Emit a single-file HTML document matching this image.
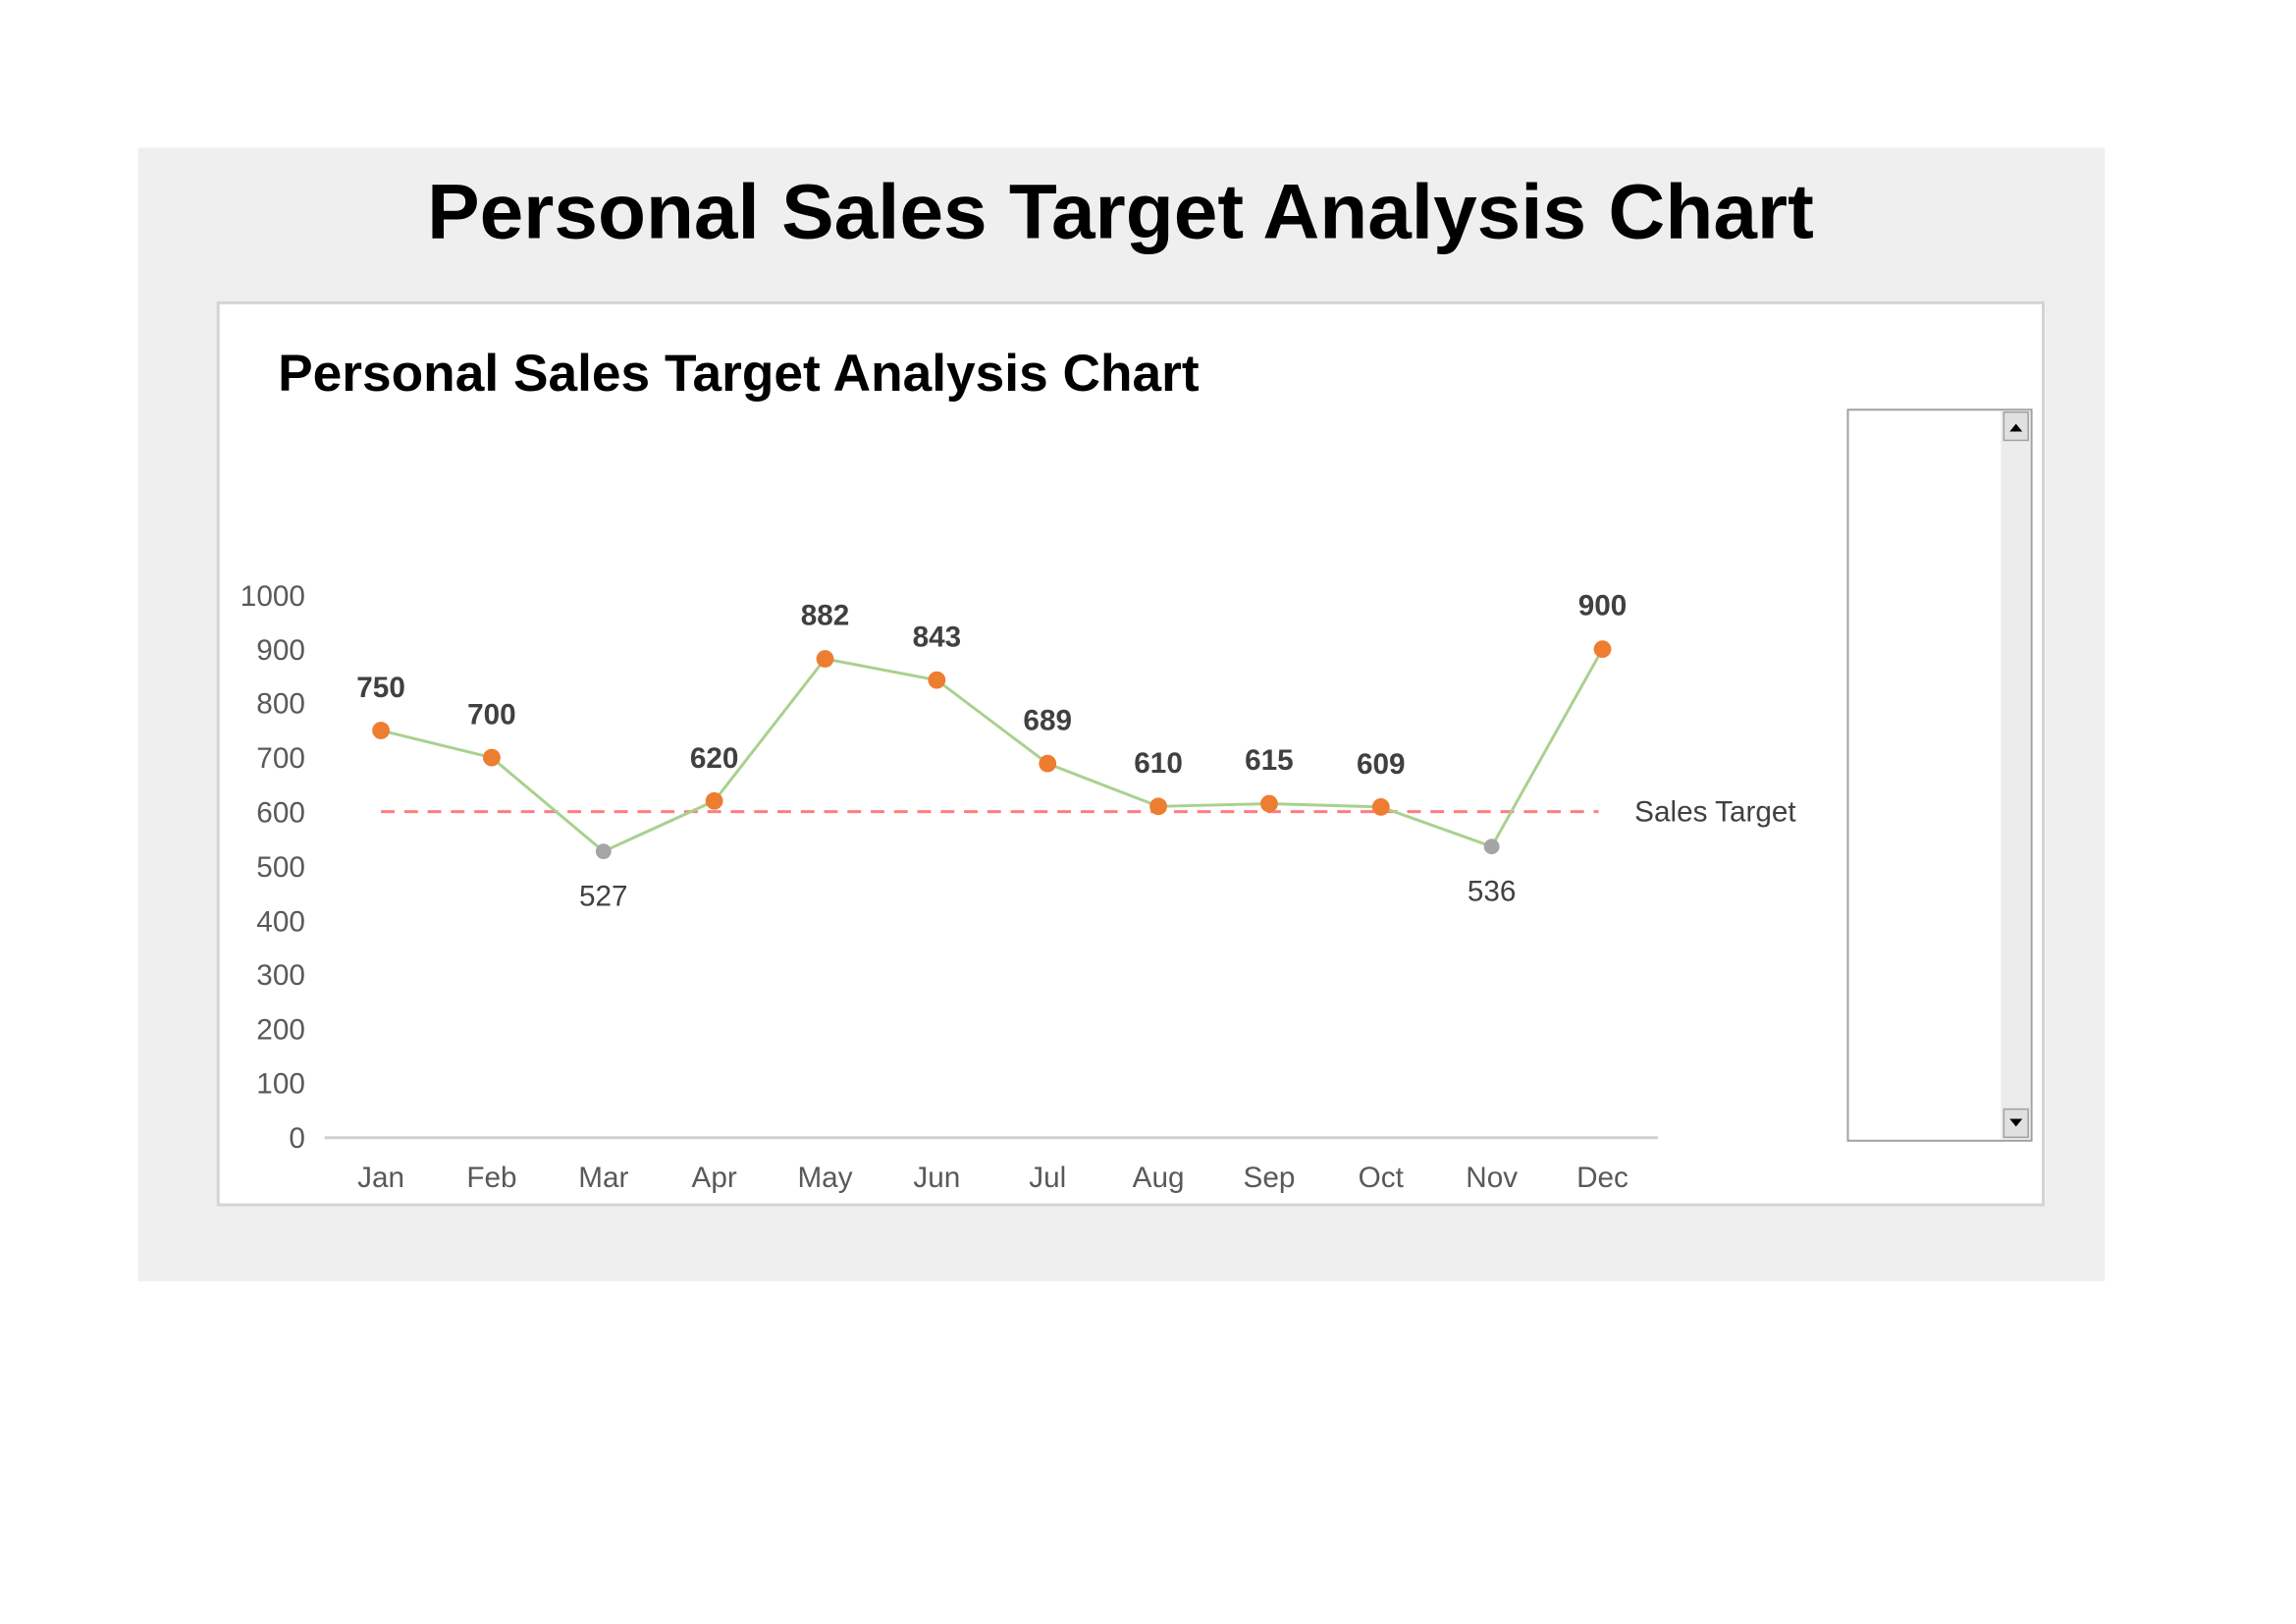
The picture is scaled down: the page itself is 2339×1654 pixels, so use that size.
<!DOCTYPE html>
<html><head><meta charset="utf-8"><style>
html,body{margin:0;padding:0;background:#fff;}
svg{display:block;}
text{font-family:"Liberation Sans",Arial,sans-serif;}
</style></head><body>
<svg width="2339" height="1654" viewBox="0 0 2339 1654" xmlns="http://www.w3.org/2000/svg">
<rect x="0" y="0" width="2339" height="1654" fill="#fff"/>
<g transform="scale(0.99)">
<rect x="142" y="152" width="2024" height="1166" fill="#efefef"/>
<text x="1153" y="245" text-anchor="middle" font-size="80" font-weight="bold" fill="#000" textLength="1427" lengthAdjust="spacingAndGlyphs">Personal Sales Target Analysis Chart</text>
<rect x="224.5" y="311.5" width="1878" height="928" fill="#fff" stroke="#d4d4d4" stroke-width="3"/>
<text x="286" y="402" font-size="53" font-weight="bold" fill="#000" textLength="948" lengthAdjust="spacingAndGlyphs">Personal Sales Target Analysis Chart</text>
<g font-size="30" fill="#595959" text-anchor="end">
<text x="314" y="623">1000</text><text x="314" y="679">900</text><text x="314" y="734">800</text>
<text x="314" y="790">700</text><text x="314" y="846">600</text><text x="314" y="902">500</text>
<text x="314" y="958">400</text><text x="314" y="1013">300</text><text x="314" y="1069">200</text>
<text x="314" y="1125">100</text><text x="314" y="1181">0</text>
</g>
<line x1="334" y1="1170.5" x2="1706" y2="1170.5" stroke="#d0d0d0" stroke-width="3"/>
<g font-size="30" fill="#595959" text-anchor="middle">
<text x="392" y="1221">Jan</text><text x="506" y="1221">Feb</text><text x="621" y="1221">Mar</text>
<text x="735" y="1221">Apr</text><text x="849" y="1221">May</text><text x="964" y="1221">Jun</text>
<text x="1078" y="1221">Jul</text><text x="1192" y="1221">Aug</text><text x="1306" y="1221">Sep</text>
<text x="1421" y="1221">Oct</text><text x="1535" y="1221">Nov</text><text x="1649" y="1221">Dec</text>
</g>
<line x1="392" y1="835" x2="1645" y2="835" stroke="#ff7c80" stroke-width="3" stroke-dasharray="14,10"/>
<text x="1682" y="845" font-size="30" fill="#404040">Sales Target</text>
<polyline fill="none" stroke="#a9d18e" stroke-width="3" points="392,751.5 506,779.4 621,875.9 735,824.0 849,677.8 964,699.6 1078,785.5 1192,829.6 1306,826.8 1421,830.2 1535,870.9 1649,667.8"/>
<g fill="#ed7d31">
<circle cx="392" cy="751.5" r="9"/><circle cx="506" cy="779.4" r="9"/><circle cx="735" cy="824.0" r="9"/>
<circle cx="849" cy="677.8" r="9"/><circle cx="964" cy="699.6" r="9"/><circle cx="1078" cy="785.5" r="9"/>
<circle cx="1192" cy="829.6" r="9"/><circle cx="1306" cy="826.8" r="9"/><circle cx="1421" cy="830.2" r="9"/>
<circle cx="1649" cy="667.8" r="9"/>
</g>
<g fill="#a5a5a5"><circle cx="621" cy="875.9" r="8"/><circle cx="1535" cy="870.9" r="8"/></g>
<g font-size="30" font-weight="bold" fill="#404040" text-anchor="middle">
<text x="392" y="717">750</text><text x="506" y="745">700</text><text x="735" y="790">620</text>
<text x="849" y="643">882</text><text x="964" y="665">843</text><text x="1078" y="751">689</text>
<text x="1192" y="795">610</text><text x="1306" y="792">615</text><text x="1421" y="796">609</text>
<text x="1649" y="633">900</text>
</g>
<g font-size="30" fill="#404040" text-anchor="middle">
<text x="621" y="932">527</text><text x="1535" y="927">536</text>
</g>
<rect x="1901.5" y="421.5" width="189" height="752" fill="#fff" stroke="#a0a0a0" stroke-width="2"/>
<rect x="2059" y="423" width="30" height="749" fill="#ececec"/>
<rect x="2062" y="424" width="25" height="29" fill="#e0e0e0" stroke="#a0a0a0" stroke-width="1.5"/>
<polygon points="2068,444 2081,444 2074.5,436" fill="#000"/>
<rect x="2062" y="1141" width="25" height="29" fill="#e0e0e0" stroke="#a0a0a0" stroke-width="1.5"/>
<polygon points="2068,1151 2081,1151 2074.5,1159" fill="#000"/>
</g>
</svg>
</body></html>
